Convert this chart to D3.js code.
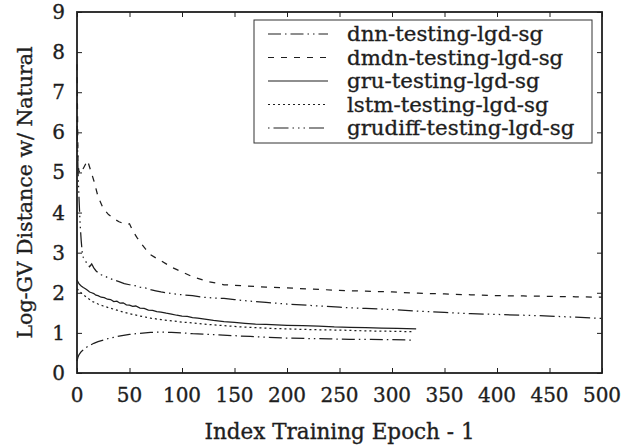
<!DOCTYPE html>
<html><head><meta charset="utf-8">
<script src="https://cdn.jsdelivr.net/npm/d3@7"></script>
<style>body{margin:0;background:#fff}svg{display:block}</style>
</head><body>
<svg id="chart" width="640" height="446"></svg>
<script>
// ---- data ----
const xTicks = [0,50,100,150,200,250,300,350,400,450,500];
const yTicks = [0,1,2,3,4,5,6,7,8,9];
const seriesNames = ["dnn-testing-lgd-sg","dmdn-testing-lgd-sg","gru-testing-lgd-sg","lstm-testing-lgd-sg","grudiff-testing-lgd-sg"];

const dnnX = [0,1,2,4,6,8,10,13,16,20,25,30,35,40,50,60,70,80,90,100,110,120,135,150,165,180,200,220,240,260,280,300,320];
const dnnY = [0.30,0.40,0.46,0.53,0.58,0.62,0.66,0.70,0.74,0.78,0.82,0.86,0.89,0.92,0.96,0.99,1.01,1.02,1.01,1.00,0.98,0.97,0.95,0.93,0.91,0.89,0.87,0.86,0.85,0.84,0.84,0.83,0.82];

const dmdnX = [0,1,2,3,5,7,10,13,16,20,25,30,35,40,45,48,50,53,57,60,65,70,75,80,90,100,110,125,140,160,180,200,225,250,275,300,325,350,375,400,425,450,475,500];
const dmdnY = [7.7,5.2,5.0,5.1,5.05,5.15,5.3,5.05,4.8,4.4,4.1,3.95,3.85,3.77,3.72,3.7,3.72,3.55,3.38,3.27,3.1,2.95,2.87,2.8,2.64,2.52,2.4,2.28,2.2,2.17,2.14,2.12,2.09,2.06,2.04,2.02,1.99,1.97,1.95,1.93,1.92,1.91,1.9,1.89];

const gruX = [0,2,4,6,8,10,12,14,16,18,20,23,26,29,32,35,38,41,44,47,50,53,56,60,64,68,72,76,80,85,90,95,100,105,110,115,120,130,140,150,160,170,180,190,200,215,230,245,260,275,290,305,323];
const gruY = [2.32,2.22,2.17,2.13,2.10,2.06,2.02,2.00,1.98,1.94,1.93,1.89,1.88,1.84,1.83,1.78,1.79,1.74,1.75,1.70,1.69,1.66,1.67,1.62,1.61,1.57,1.56,1.53,1.52,1.49,1.47,1.44,1.42,1.41,1.38,1.37,1.35,1.31,1.28,1.26,1.24,1.22,1.21,1.20,1.19,1.18,1.17,1.15,1.14,1.13,1.12,1.11,1.10];

const lstmX = [0,3,6,10,15,20,25,30,40,50,60,70,80,90,100,110,125,140,155,170,185,200,225,250,275,300,320];
const lstmY = [2.1,2.02,1.95,1.87,1.78,1.72,1.67,1.63,1.55,1.48,1.42,1.37,1.33,1.30,1.27,1.25,1.21,1.18,1.15,1.13,1.11,1.10,1.08,1.07,1.05,1.04,1.03];

const grudiffX = [0,1,2,3,4,5,6,8,10,12,14,16,18,20,23,26,30,35,40,45,50,55,60,65,70,75,80,90,100,110,120,130,140,150,165,180,200,225,250,275,300,325,350,375,400,425,450,475,500];
const grudiffY = [6.3,5.0,4.3,3.7,3.3,3.0,2.88,2.8,2.7,2.65,2.72,2.62,2.55,2.5,2.45,2.42,2.37,2.32,2.28,2.23,2.2,2.18,2.14,2.12,2.08,2.05,2.02,1.98,1.95,1.93,1.89,1.87,1.86,1.83,1.79,1.76,1.72,1.68,1.64,1.61,1.58,1.54,1.51,1.48,1.46,1.44,1.42,1.39,1.36];

const dashes = ["13,4,1.5,4,13,4,1.5,4,1.5,4", "6,7", null, "2,3", "1.5,4,15,4,1.5,4,1.5,4"];

// ---- layout ----
const L=77, R=602, T=12, B=373;
const svg = d3.select("#chart");
const x = d3.scaleLinear().domain([0,500]).range([L,R]);
const y = d3.scaleLinear().domain([0,9]).range([B,T]);
const ink = "#1e1e1e";
const font = "'DejaVu Serif', serif";

const series = [[dnnX,dnnY],[dmdnX,dmdnY],[gruX,gruY],[lstmX,lstmY],[grudiffX,grudiffY]];

function txt(sel, size){
  return sel.attr("font-family",font).attr("font-size",size).attr("fill",ink)
    .attr("stroke",ink).attr("stroke-width",0.35);
}

// axes (inward ticks on all sides)
function styleAxis(g){ g.select(".domain").remove(); g.selectAll(".tick line").attr("stroke",ink).attr("stroke-width",1); g.selectAll("text").remove(); }
svg.append("g").attr("transform",`translate(0,${B})`).call(d3.axisBottom(x).tickValues(xTicks).tickSizeInner(-5).tickSizeOuter(0)).call(styleAxis);
svg.append("g").attr("transform",`translate(0,${T})`).call(d3.axisTop(x).tickValues(xTicks).tickSizeInner(-5).tickSizeOuter(0)).call(styleAxis);
svg.append("g").attr("transform",`translate(${L},0)`).call(d3.axisLeft(y).tickValues(yTicks).tickSizeInner(-5).tickSizeOuter(0)).call(styleAxis);
svg.append("g").attr("transform",`translate(${R},0)`).call(d3.axisRight(y).tickValues(yTicks).tickSizeInner(-5).tickSizeOuter(0)).call(styleAxis);

// tick labels
svg.append("g").selectAll("text").data(xTicks).join("text")
  .attr("x",d=>x(d)).attr("y",B+22).attr("dy","0.35em").attr("text-anchor","middle")
  .call(txt,20).text(d=>d);
svg.append("g").selectAll("text").data(yTicks).join("text")
  .attr("x",L-12).attr("y",d=>y(d)).attr("dy","0.35em").attr("text-anchor","end")
  .call(txt,20).text(d=>d);

// lines
const line = d3.line().x(d=>x(d[0])).y(d=>y(d[1]));
series.forEach((s,i)=>{
  const pts = s[0].map((v,j)=>[v,s[1][j]]);
  svg.append("path").datum(pts).attr("d",line).attr("fill","none")
    .attr("stroke",ink).attr("stroke-width",1.25)
    .attr("stroke-dasharray",dashes[i]);
});

// frame
svg.append("rect").attr("x",L).attr("y",T).attr("width",R-L).attr("height",B-T)
  .attr("fill","none").attr("stroke",ink).attr("stroke-width",1.8);

// legend
const lg = svg.append("g");
lg.append("rect").attr("x",254).attr("y",20).attr("width",338).attr("height",123)
  .attr("fill","#fff").attr("stroke","#333").attr("stroke-width",1);
seriesNames.forEach((n,i)=>{
  const yy = 34 + i*23.5;
  lg.append("line").attr("x1",268).attr("x2",328).attr("y1",yy).attr("y2",yy)
    .attr("stroke",ink).attr("stroke-width",1.1).attr("stroke-dasharray",dashes[i]);
  lg.append("text").attr("x",347).attr("y",yy).attr("dy","0.35em")
    .call(txt,21.3).text(n);
});

// axis titles
svg.append("text").attr("x",(L+R)/2).attr("y",431).attr("dy","0.35em").attr("text-anchor","middle")
  .call(txt,21.5).text("Index Training Epoch - 1");
svg.append("text").attr("transform",`translate(25,${(T+B)/2}) rotate(-90)`).attr("dy","0.35em").attr("text-anchor","middle")
  .call(txt,20.5).text("Log-GV Distance w/ Natural");
</script>
</body></html>
